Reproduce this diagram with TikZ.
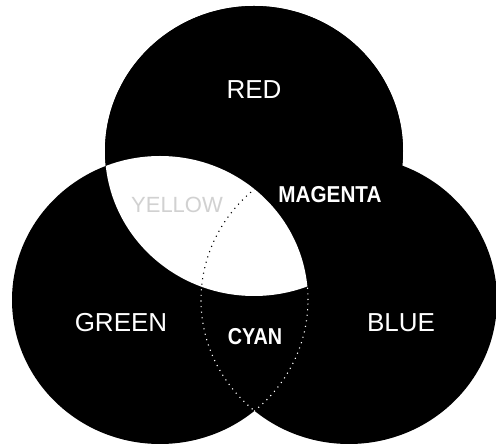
\documentclass[tikz,border=0pt]{standalone}
\usepackage{fontspec}
\setmainfont{Liberation Sans}
\usepackage{graphicx}
\begin{document}
\begin{tikzpicture}[x=1pt,y=1pt,
  disc/.style={fill=black},
  dotw/.style={draw=white,line width=1.1pt,dash pattern=on 1.1pt off 4.5pt},
  dotb/.style={draw=black,line width=1.1pt,dash pattern=on 1.1pt off 4.5pt},
  lab/.style={text=white,inner sep=0pt,font=\fontsize{26}{26}\selectfont},
  blab/.style={text=white,inner sep=0pt,font=\fontsize{23}{23}\selectfont\bfseries}]
\useasboundingbox (0,0) rectangle (496,444);
\coordinate (cr) at (254,293);
\coordinate (cg) at (160,144);
\coordinate (cb) at (349,144);
\def\redpath{(cr) ellipse [x radius=149, y radius=145]}
\def\greenpath{(cg) ellipse [x radius=148, y radius=144]}
\def\bluepath{(cb) ellipse [x radius=148, y radius=144]}
% black discs
\fill[disc] \greenpath;
\fill[disc] \bluepath;
\fill[disc] \redpath;
% dotted outlines of the cyan region
\begin{scope}
  \clip \bluepath;
  \path[dotw] \greenpath;
\end{scope}
\begin{scope}
  \clip \greenpath;
  \path[dotw] \bluepath;
\end{scope}
% red covers again
\fill[disc] \redpath;
% white lens (red and green)
\begin{scope}
  \clip \redpath;
  \fill[white] \greenpath;
  \clip \greenpath;
  \path[dotb] \bluepath;
\end{scope}
% labels
\node[lab] (red) at (254,354) {RED};
\node[lab] (green) at (121,121) {GREEN};
\node[lab] (blue) at (401,121) {BLUE};
\node[blab] (cyan) at (255,107) {\scalebox{0.86}[1]{CYAN}};
\node[blab] (magenta) at (330,249) {\scalebox{0.9}[1]{MAGENTA}};
\node[lab,text=black!18,font=\fontsize{22}{22}\selectfont] (yellow) at (177,239) {YELLOW};
\end{tikzpicture}
\end{document}
